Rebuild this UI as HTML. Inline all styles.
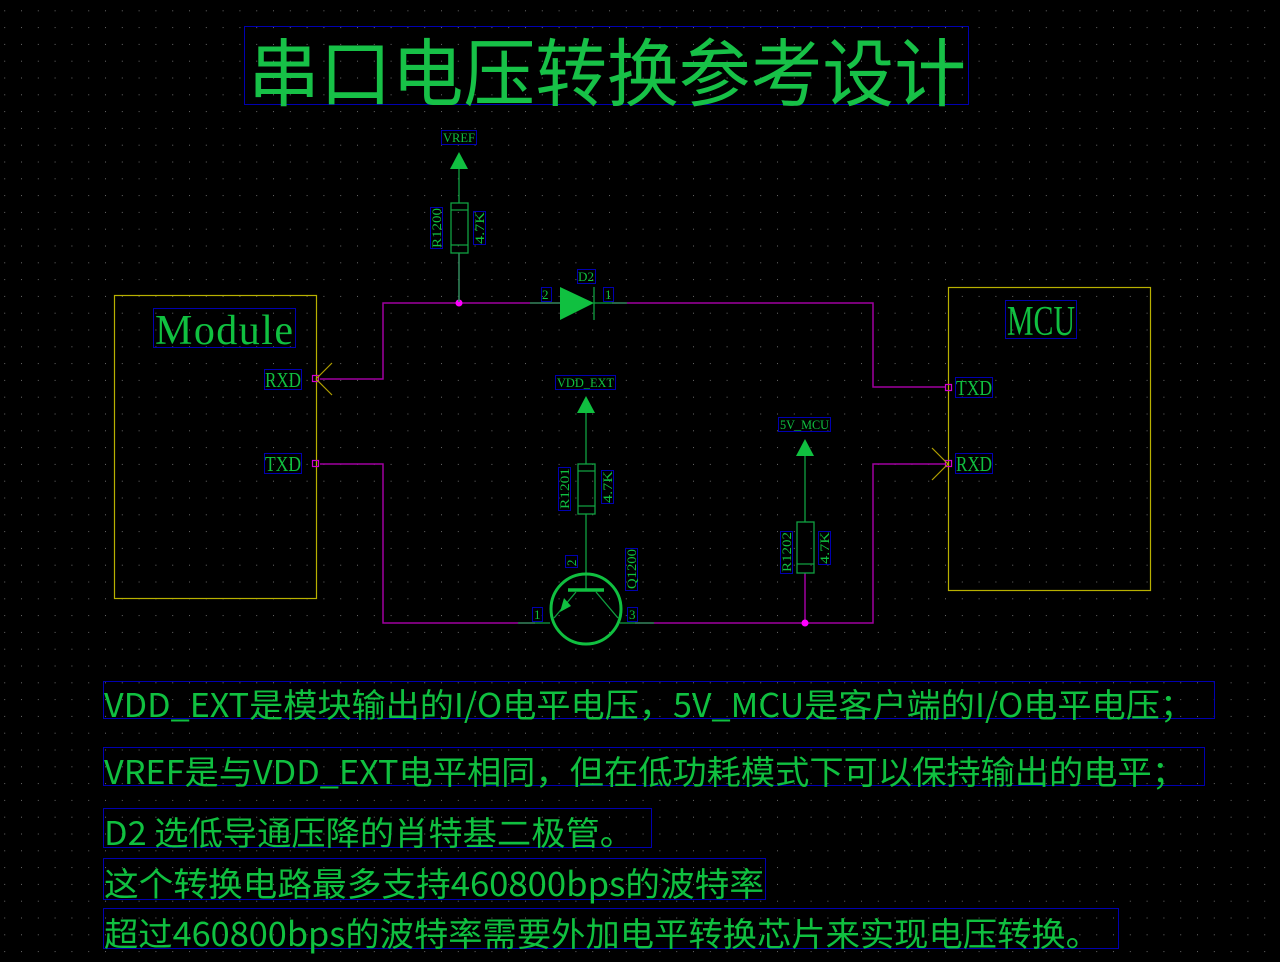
<!DOCTYPE html>
<html><head><meta charset="utf-8"><style>
html,body{margin:0;padding:0;background:#000;}
svg{display:block}
.cj{font-family:"Noto Sans CJK SC","Liberation Sans",sans-serif;fill:#10c040;}
.sf{font-family:"Liberation Serif","Noto Serif CJK SC",serif;fill:#10c040;}
.mo{font-family:"Liberation Mono","Noto Serif CJK SC",monospace;fill:#10c040;}
</style></head><body>
<svg width="1280" height="962" viewBox="0 0 1280 962" xmlns="http://www.w3.org/2000/svg">
<defs>
<pattern id="g" x="4.2" y="10.3" width="16.8" height="16.8" patternUnits="userSpaceOnUse">
<rect x="0" y="0" width="1" height="1" fill="#6a6a6a"/>
</pattern>
</defs>
<rect width="1280" height="962" fill="#000"/>
<rect width="1280" height="962" fill="url(#g)"/>

<!-- title -->
<rect x="244.5" y="26.5" width="724" height="78" fill="none" stroke="#0000b0" stroke-width="1"/>
<text class="cj" x="248" y="100" font-size="74" textLength="718" lengthAdjust="spacingAndGlyphs" style="fill:#17c147">串口电压转换参考设计</text>

<!-- Module box -->
<rect x="114.5" y="295.5" width="202" height="303" fill="none" stroke="#b8b000" stroke-width="1.2"/>
<rect x="153.5" y="308.5" width="142" height="39" fill="none" stroke="#0000b0"/>
<text class="sf" x="155" y="344" font-size="42" textLength="138" lengthAdjust="spacing">Module</text>
<rect x="264.5" y="369.5" width="37" height="20" fill="none" stroke="#0000b0"/>
<text class="sf" x="265" y="387" font-size="21" textLength="36" lengthAdjust="spacingAndGlyphs">RXD</text>
<rect x="264.5" y="453.5" width="37" height="20" fill="none" stroke="#0000b0"/>
<text class="sf" x="265" y="471" font-size="21" textLength="36" lengthAdjust="spacingAndGlyphs">TXD</text>

<!-- MCU box -->
<rect x="948.5" y="287.5" width="202" height="303" fill="none" stroke="#b8b000" stroke-width="1.2"/>
<rect x="1005.5" y="300.5" width="71" height="38" fill="none" stroke="#0000b0"/>
<text class="sf" x="1007" y="335" font-size="42" textLength="68" lengthAdjust="spacingAndGlyphs">MCU</text>
<rect x="955.5" y="377.5" width="37" height="20" fill="none" stroke="#0000b0"/>
<text class="sf" x="956" y="395" font-size="21" textLength="36" lengthAdjust="spacingAndGlyphs">TXD</text>
<rect x="955.5" y="453.5" width="37" height="20" fill="none" stroke="#0000b0"/>
<text class="sf" x="956" y="471" font-size="21" textLength="36" lengthAdjust="spacingAndGlyphs">RXD</text>

<!-- wires -->
<g fill="none" stroke="#a000a0" stroke-width="1.5">
<polyline points="320,379 383,379 383,303 560,303"/>
<polyline points="612,303 873,303 873,387 946,387"/>
<polyline points="320,464 383,464 383,623 535,623"/>
<polyline points="635,623 873,623 873,464 946,464"/>
<line x1="459" y1="253" x2="459" y2="303"/>
<line x1="805" y1="573" x2="805" y2="623"/>
</g>
<g fill="none" stroke="#d000d0" stroke-width="1.2">
<rect x="312.5" y="375.5" width="6" height="6"/>
<rect x="312.5" y="460.5" width="6" height="6"/>
<rect x="945.5" y="384.5" width="6" height="6"/>
<rect x="945.5" y="460.5" width="6" height="6"/>
</g>
<g stroke="#b0a000" stroke-width="1.2">
<line x1="316" y1="379" x2="332" y2="363"/><line x1="316" y1="379" x2="332" y2="395"/>
<line x1="948" y1="464" x2="932" y2="448"/><line x1="948" y1="464" x2="932" y2="480"/>
</g>
<circle cx="459" cy="303" r="3.5" fill="#ff00ff"/>
<circle cx="805" cy="623" r="3.5" fill="#ff00ff"/>

<!-- VREF + R1200 -->
<rect x="441.5" y="130.5" width="35" height="14" fill="none" stroke="#0000b0"/>
<text class="sf" x="443" y="142" font-size="13" textLength="32" lengthAdjust="spacingAndGlyphs">VREF</text>
<polygon points="459,152 450,169 468,169" fill="#10c040"/>
<g stroke="#10a040" stroke-width="1.3" fill="none">
<line x1="459" y1="169" x2="459" y2="203"/>
<rect x="451" y="203" width="17" height="50"/>
<line x1="451" y1="210" x2="468" y2="210"/><line x1="451" y1="245" x2="468" y2="245"/>
<line x1="459" y1="253" x2="459" y2="302"/>
</g>
<rect x="430.5" y="207.5" width="12" height="41" fill="none" stroke="#0000b0"/>
<text class="sf" transform="translate(441,248) rotate(-90)" font-size="13" textLength="40" lengthAdjust="spacingAndGlyphs">R1200</text>
<rect x="473.5" y="211.5" width="12" height="33" fill="none" stroke="#0000b0"/>
<text class="sf" transform="translate(484,244) rotate(-90)" font-size="13" textLength="32" lengthAdjust="spacingAndGlyphs">4.7K</text>

<!-- D2 -->
<g stroke="#10a040" stroke-width="1.3">
<line x1="530" y1="303" x2="560" y2="303"/>
<line x1="594" y1="287" x2="594" y2="320"/>
<line x1="594" y1="303" x2="627" y2="303"/>
</g>
<polygon points="560,287 560,320 594,303" fill="#10c040"/>
<rect x="577.5" y="269.5" width="18" height="14" fill="none" stroke="#0000b0"/>
<text class="sf" x="578" y="281" font-size="13" textLength="16" lengthAdjust="spacingAndGlyphs">D2</text>
<rect x="541.5" y="287.5" width="10" height="14" fill="none" stroke="#0000b0"/>
<text class="sf" x="542" y="299" font-size="13">2</text>
<rect x="603.5" y="287.5" width="10" height="14" fill="none" stroke="#0000b0"/>
<text class="sf" x="605" y="299" font-size="13">1</text>

<!-- VDD_EXT + R1201 + Q -->
<rect x="555.5" y="375.5" width="60" height="14" fill="none" stroke="#0000b0"/>
<text class="sf" x="557" y="387" font-size="13" textLength="57" lengthAdjust="spacingAndGlyphs">VDD_EXT</text>
<polygon points="586,396 577,413 595,413" fill="#10c040"/>
<g stroke="#10a040" stroke-width="1.3" fill="none">
<line x1="586" y1="413" x2="586" y2="464"/>
<rect x="578" y="464" width="17" height="50"/>
<line x1="578" y1="471" x2="595" y2="471"/><line x1="578" y1="506" x2="595" y2="506"/>
<line x1="586" y1="514" x2="586" y2="590"/>
<line x1="518" y1="623" x2="550" y2="623"/>
<line x1="620" y1="623" x2="654" y2="623"/>
<line x1="576" y1="592" x2="554" y2="618"/>
<line x1="596" y1="592" x2="618" y2="618"/>
</g>
<circle cx="586" cy="609" r="35" fill="none" stroke="#10c040" stroke-width="3"/>
<line x1="568" y1="590" x2="604" y2="590" stroke="#10c040" stroke-width="3.5"/>
<polygon points="560,612 564,598 571,606" fill="#10c040"/>
<rect x="558.5" y="467.5" width="12" height="43" fill="none" stroke="#0000b0"/>
<text class="sf" transform="translate(569,509) rotate(-90)" font-size="13" textLength="41" lengthAdjust="spacingAndGlyphs">R1201</text>
<rect x="601.5" y="470.5" width="12" height="33" fill="none" stroke="#0000b0"/>
<text class="sf" transform="translate(612,503) rotate(-90)" font-size="13" textLength="32" lengthAdjust="spacingAndGlyphs">4.7K</text>
<rect x="565.5" y="555.5" width="12" height="12" fill="none" stroke="#0000b0"/>
<text class="sf" transform="translate(576,566) rotate(-90)" font-size="13">2</text>
<rect x="625.5" y="548.5" width="12" height="42" fill="none" stroke="#0000b0"/>
<text class="sf" transform="translate(636,589) rotate(-90)" font-size="13" textLength="40" lengthAdjust="spacingAndGlyphs">Q1200</text>
<rect x="532.5" y="607.5" width="10" height="14" fill="none" stroke="#0000b0"/>
<text class="sf" x="534" y="619" font-size="13">1</text>
<rect x="627.5" y="607.5" width="10" height="14" fill="none" stroke="#0000b0"/>
<text class="sf" x="629" y="619" font-size="13">3</text>

<!-- 5V_MCU + R1202 -->
<rect x="778.5" y="417.5" width="52" height="14" fill="none" stroke="#0000b0"/>
<text class="sf" x="780" y="429" font-size="13" textLength="49" lengthAdjust="spacingAndGlyphs">5V_MCU</text>
<polygon points="805,439 796,456 814,456" fill="#10c040"/>
<g stroke="#10a040" stroke-width="1.3" fill="none">
<line x1="805" y1="456" x2="805" y2="522"/>
<rect x="797" y="522" width="17" height="51"/>
<line x1="797" y1="564" x2="814" y2="564"/>
</g>
<rect x="780.5" y="531.5" width="12" height="42" fill="none" stroke="#0000b0"/>
<text class="sf" transform="translate(791,572) rotate(-90)" font-size="13" textLength="40" lengthAdjust="spacingAndGlyphs">R1202</text>
<rect x="818.5" y="531.5" width="12" height="33" fill="none" stroke="#0000b0"/>
<text class="sf" transform="translate(829,564) rotate(-90)" font-size="13" textLength="32" lengthAdjust="spacingAndGlyphs">4.7K</text>

<!-- notes -->
<g fill="none" stroke="#0000b0">
<rect x="103.5" y="681.5" width="1111" height="37"/>
<rect x="103.5" y="747.5" width="1101" height="38"/>
<rect x="103.5" y="808.5" width="548" height="39"/>
<rect x="103.5" y="858.5" width="662" height="41"/>
<rect x="103.5" y="908.5" width="1015" height="40"/>
</g>
<text class="cj" x="104" y="717" font-size="33" textLength="1090" lengthAdjust="spacingAndGlyphs">VDD_EXT是模块输出的I/O电平电压，5V_MCU是客户端的I/O电平电压；</text>
<text class="cj" x="104" y="784" font-size="33" textLength="1082" lengthAdjust="spacingAndGlyphs">VREF是与VDD_EXT电平相同，但在低功耗模式下可以保持输出的电平；</text>
<text class="cj" x="104" y="845" font-size="33" textLength="530" lengthAdjust="spacingAndGlyphs">D2 选低导通压降的肖特基二极管。</text>
<text class="cj" x="104" y="896" font-size="33" textLength="660" lengthAdjust="spacingAndGlyphs">这个转换电路最多支持460800bps的波特率</text>
<text class="cj" x="104" y="946" font-size="33" textLength="996" lengthAdjust="spacingAndGlyphs">超过460800bps的波特率需要外加电平转换芯片来实现电压转换。</text>
</svg>
</body></html>
